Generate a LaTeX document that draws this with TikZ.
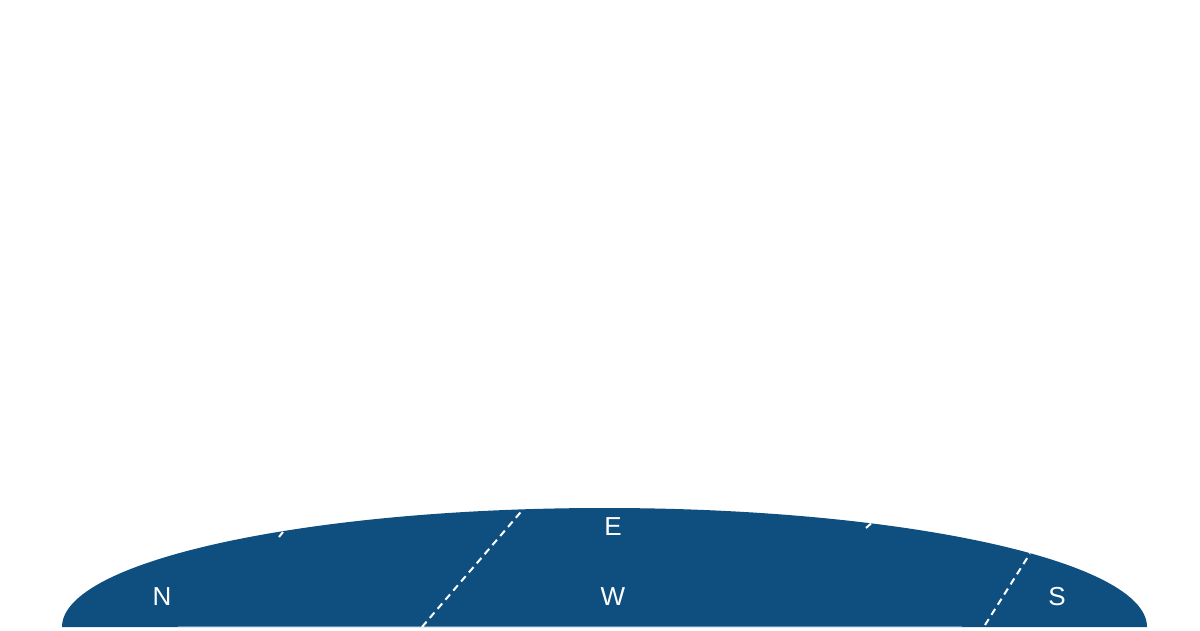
\documentclass[tikz,border=0pt]{standalone}
\usepackage{fontspec}
\setmainfont{Liberation Sans}
\usetikzlibrary{positioning}
\definecolor{dome}{RGB}{15,79,128}
\definecolor{domeedge}{RGB}{96,140,180}

\begin{document}
\begin{tikzpicture}[x=1pt,y=1pt,
    lbl/.style={text=white,font=\fontsize{26}{30}\selectfont},
    track/.style={white,line width=2pt,dash pattern=on 7pt off 5pt}]
					\useasboundingbox (0,0) rectangle (1200,630);
					\fill [dome] (62,3) arc [start angle=180, end angle=0, x radius=542.5, y radius=119] -- cycle;
					\draw [domeedge, line width=1pt] (178,3.5) to (962,3.5);

					\draw [track] (422,3) to (523,120.5);
					\draw [track] (985,5) to (1030,76.5);
					\draw [white, line width=2pt] (279,93) to (283,98);
					\draw [white, line width=2pt] (866,102) to (871,106.5);

					\node [lbl] (north) at (162,33) {N};
					\node [lbl] (west) at (613,33) {W};
					\node [lbl] (east) at (613,103) {E};
					\node [lbl] (south) at (1057,33) {S};
				\end{tikzpicture}
\end{document}
